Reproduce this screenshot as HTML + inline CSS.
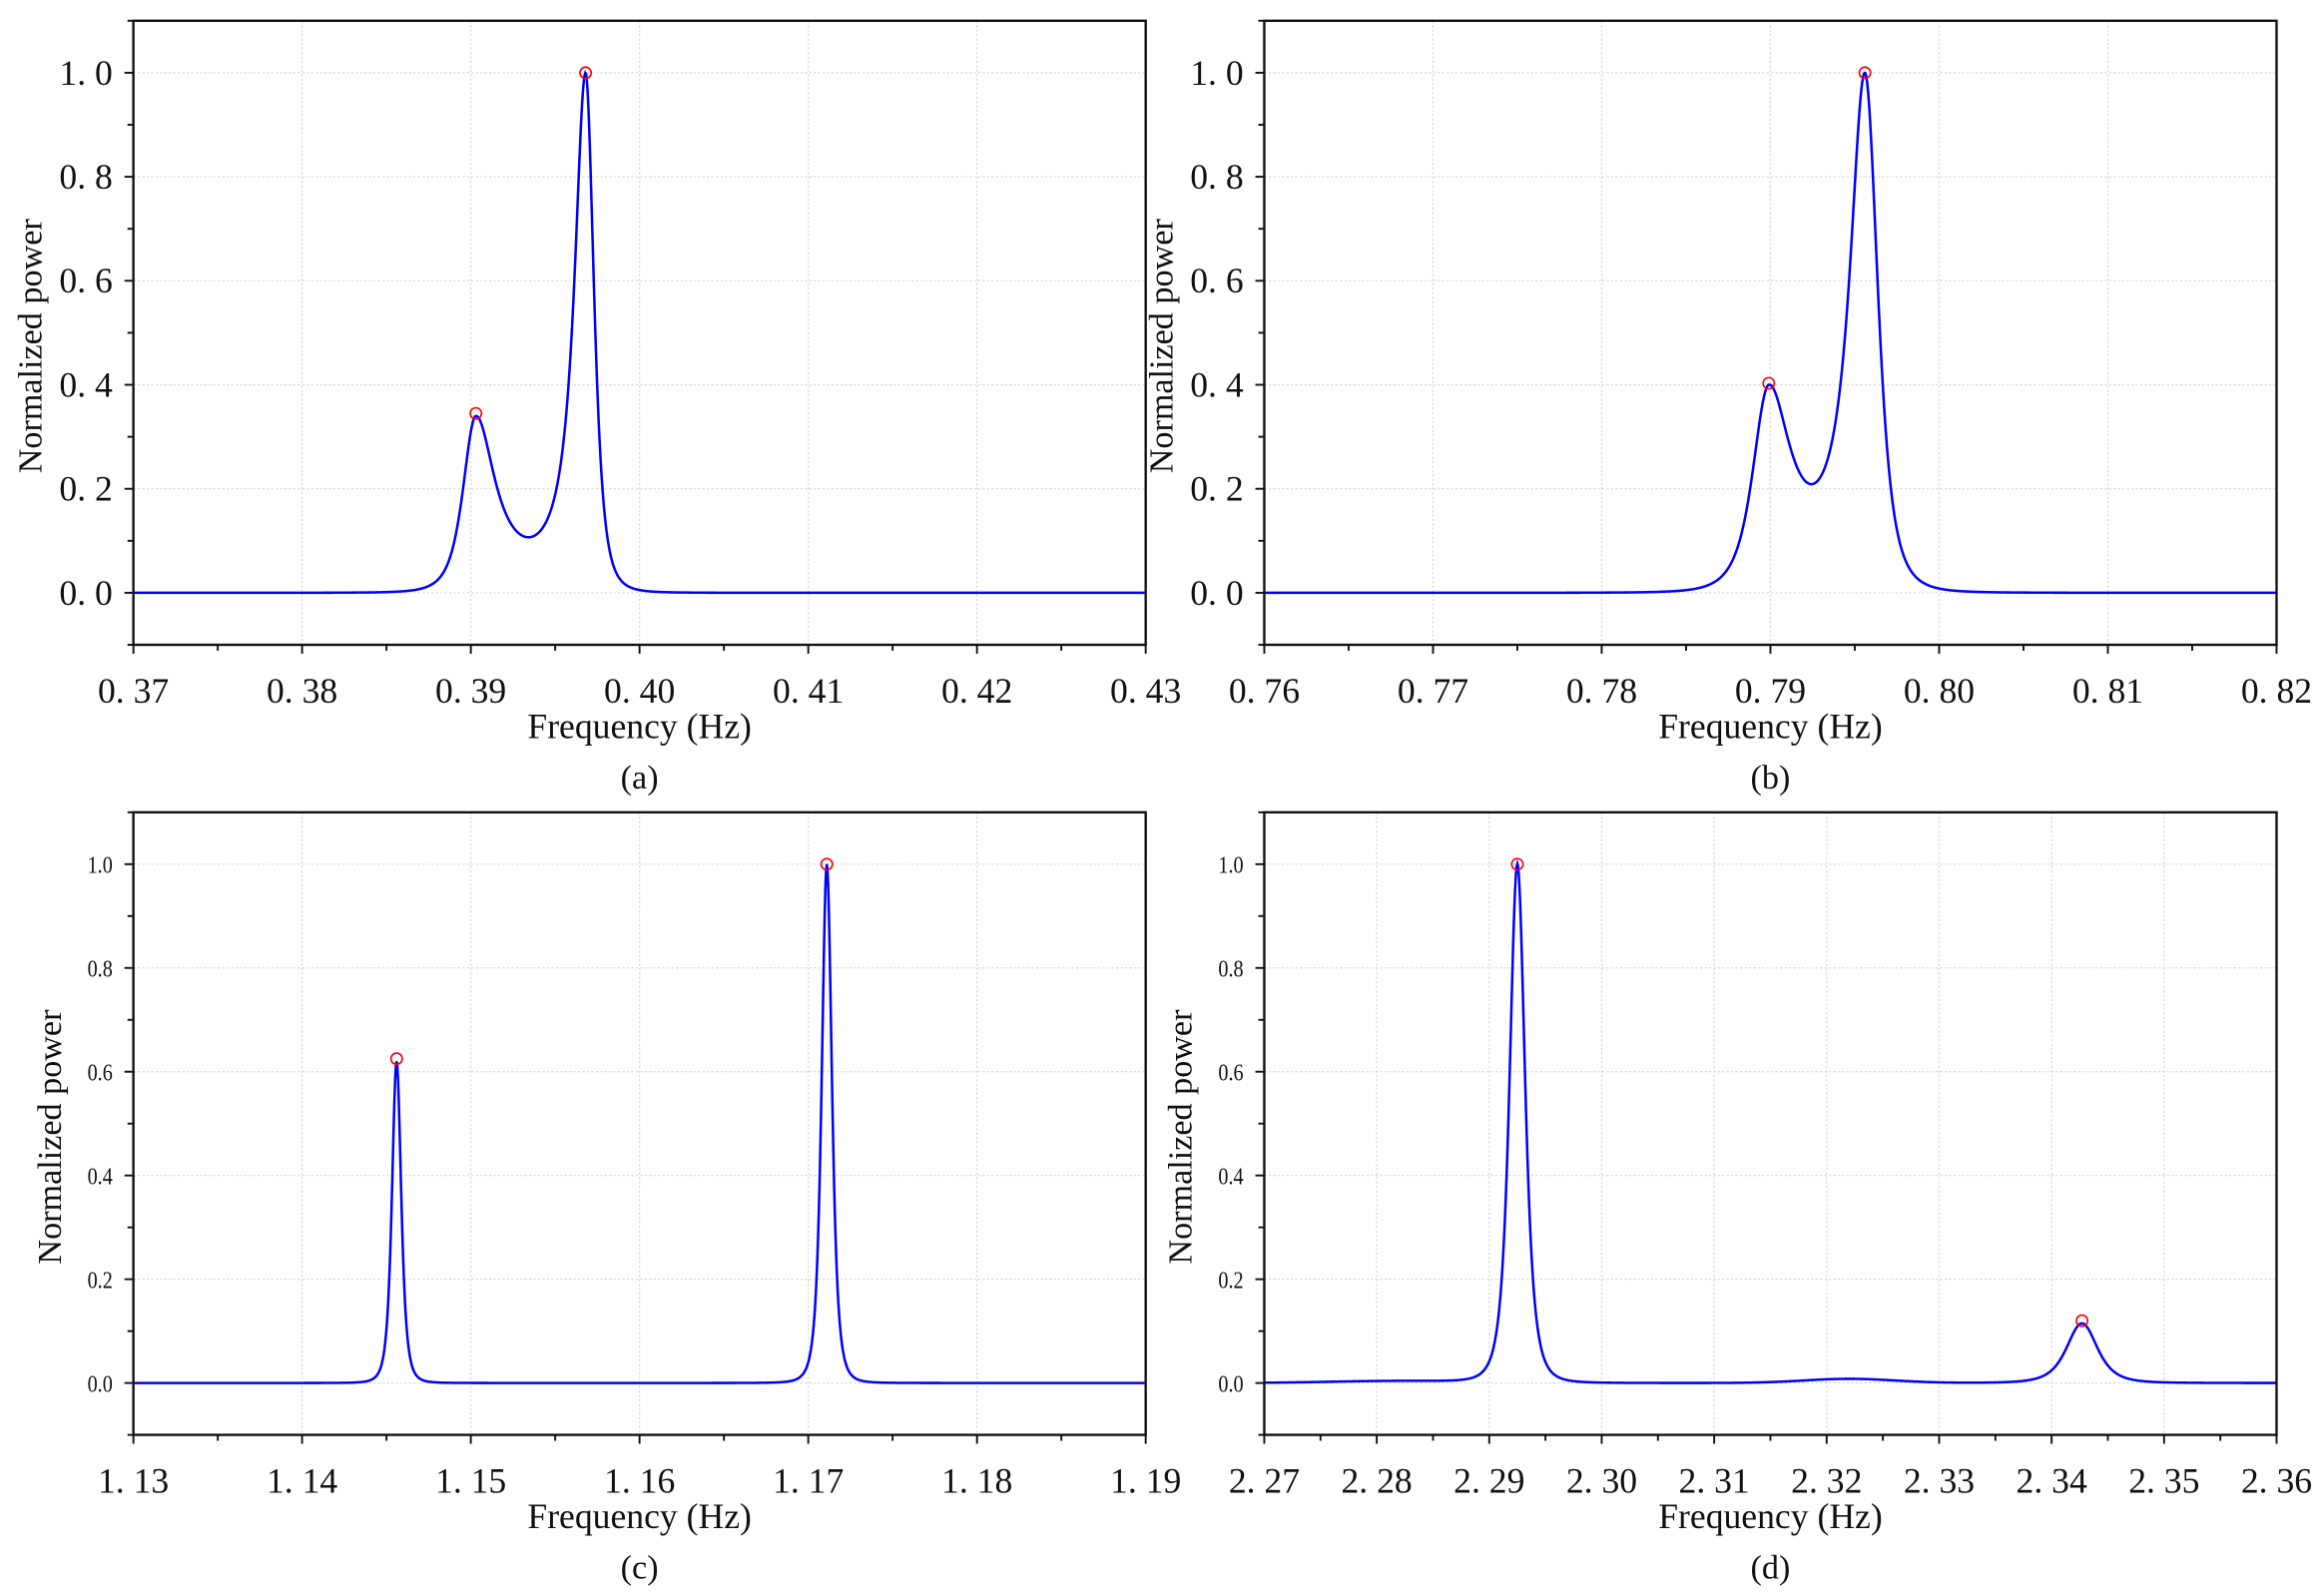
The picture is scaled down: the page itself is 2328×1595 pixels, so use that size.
<!DOCTYPE html>
<html><head><meta charset="utf-8"><style>
html,body{margin:0;padding:0;background:#fff;width:2328px;height:1595px;overflow:hidden}
svg{display:block}
text{font-family:"Liberation Serif","Noto Serif CJK SC",serif;fill:#111}
</style></head><body>
<svg id="s" width="2328" height="1595" viewBox="0 0 1568 1074" preserveAspectRatio="none" xmlns="http://www.w3.org/2000/svg"></svg>
<script>
const S=document.getElementById('s');let h='';
function L2(f,f0,a,w){const d=(f-f0)/w;return a/((1+d*d)*(1+d*d));}
function L1(f,f0,a,w){const d=(f-f0)/w;return a/(1+d*d);}
function G(f,f0,a,s){const d=(f-f0)/s;return a*Math.exp(-0.5*d*d);}
function pairRaw(f,f1,a1,wo1,wi1,f2,a2,wo2,wi2){
 let p1,p2;
 if(f<=f1)p1=L2(f,f1,a1,wo1);else{p1=L1(f,f1,a1,wi1);if(f>f2){const d=(f-f2)/0.001;p1*=Math.exp(-d*d);}}
 if(f>=f2)p2=L2(f,f2,a2,wo2);else{p2=L1(f,f2,a2,wi2);if(f<f1){const d=(f-f1)/0.001;p2*=Math.exp(-d*d);}}
 return p1+p2;
}
function makePair(f1,t1,wo1,wi1,f2,t2,wo2,wi2){
 let a1=t1,a2=t2;
 for(let k=0;k<30;k++){
  const v1=pairRaw(f1,f1,a1,wo1,wi1,f2,a2,wo2,wi2), v2=pairRaw(f2,f1,a1,wo1,wi1,f2,a2,wo2,wi2);
  a1+=t1-v1; a2+=t2-v2;
 }
 return f=>pairRaw(f,f1,a1,wo1,wi1,f2,a2,wo2,wi2);
}
const panels=[
 {L:90,R:773,T:14,B:435,x0:0.37,x1:0.43,step:0.01,big:true,lab:'(a)',ylx:20,
  fn:makePair(0.3903,0.34,0.0014,0.0014,0.3968,1,0.0009,0.0008),peaks:[[0.3903,0.345],[0.3968,1]]},
 {L:853,R:1536,T:14,B:435,x0:0.76,x1:0.82,step:0.01,big:true,lab:'(b)',ylx:783,
  fn:makePair(0.7899,0.4,0.0018,0.0016,0.7956,1,0.0014,0.0011),peaks:[[0.7899,0.403],[0.7956,1]]},
 {L:90,R:773,T:548,B:968,x0:1.13,x1:1.19,step:0.01,big:false,lab:'(c)',ylx:33,
  fn:f=>L2(f,1.1456,0.62,0.0005)+L2(f,1.1711,1,0.00055),peaks:[[1.1456,0.625],[1.1711,1]]},
 {L:853,R:1536,T:548,B:968,x0:2.27,x1:2.36,step:0.01,big:false,lab:'(d)',ylx:796,
  fn:f=>L2(f,2.2925,1,0.00125)+L2(f,2.3427,0.115,0.0025)+G(f,2.322,0.008,0.004)+G(f,2.282,0.004,0.006),peaks:[[2.2925,1],[2.3427,0.12]]}
];
panels.forEach(p=>{
 const X=f=>p.L+(f-p.x0)/(p.x1-p.x0)*(p.R-p.L);
 const Y=v=>p.B-(v+0.1)/1.2*(p.B-p.T);
 const n=Math.round((p.x1-p.x0)/p.step);
 for(let i=1;i<n;i++){const x=X(p.x0+i*p.step);h+=`<line x1="${x}" y1="${p.T}" x2="${x}" y2="${p.B}" stroke="#d8d8d8" stroke-width="0.8" stroke-dasharray="1.5,1.5"/>`;}
 for(let v=0;v<=1.001;v+=0.2){const y=Y(v);h+=`<line x1="${p.L}" y1="${y}" x2="${p.R}" y2="${y}" stroke="#d8d8d8" stroke-width="0.8" stroke-dasharray="1.5,1.5"/>`;}
 let d='';for(let i=0;i<=1400;i++){const f=p.x0+(p.x1-p.x0)*i/1400;d+=(i?'L':'M')+X(f).toFixed(2)+','+Y(p.fn(f)).toFixed(2);}
 h+=`<path d="${d}" fill="none" stroke="#0000ff" stroke-width="1.7"/>`;
 p.peaks.forEach(k=>{h+=`<circle cx="${X(k[0])}" cy="${Y(k[1])}" r="3.8" fill="none" stroke="#ff0000" stroke-width="1.1"/>`;});
 h+=`<rect x="${p.L}" y="${p.T}" width="${p.R-p.L}" height="${p.B-p.T}" fill="none" stroke="#111" stroke-width="1.6"/>`;
 for(let i=0;i<=2*n;i++){const x=X(p.x0+i*p.step/2);const len=i%2?4:6;h+=`<line x1="${x}" y1="${p.B}" x2="${x}" y2="${p.B+len}" stroke="#111" stroke-width="1.3"/>`;
  if(i%2==0){const v=(p.x0+i/2*p.step).toFixed(2).replace('.','. ');h+=`<text x="${x}" y="${p.B+39}" font-size="24" text-anchor="middle">${v}</text>`;}}
 for(let k=-1;k<=11;k++){const v=k/10;const y=Y(v);const len=k%2==0?6:4;h+=`<line x1="${p.L-len}" y1="${y}" x2="${p.L}" y2="${y}" stroke="#111" stroke-width="1.3"/>`;
  if(k>=0&&k%2==0){const t=v.toFixed(1).replace('.',p.big?'. ':'.');
   if(p.big)h+=`<text x="${p.L-14}" y="${y+8}" font-size="24" text-anchor="end">${t}</text>`;
   else h+=`<text x="${p.L-14}" y="${y+6}" font-size="16" text-anchor="end" transform="translate(${p.L-14},0) scale(0.85,1) translate(${-(p.L-14)},0)">${t}</text>`;}}
 const cx=(p.L+p.R)/2;
 h+=`<text x="${cx}" y="${p.B+63}" font-size="24" text-anchor="middle">Frequency (Hz)</text>`;
 h+=`<text x="${cx}" y="${p.B+97}" font-size="23" text-anchor="middle">${p.lab}</text>`;
 const cy=(p.T+p.B)/2+9;
 h+=`<text x="0" y="0" font-size="23" text-anchor="middle" transform="translate(${p.ylx+8},${cy}) rotate(-90)">Normalized power</text>`;
});
S.innerHTML=h;
</script>
</body></html>
